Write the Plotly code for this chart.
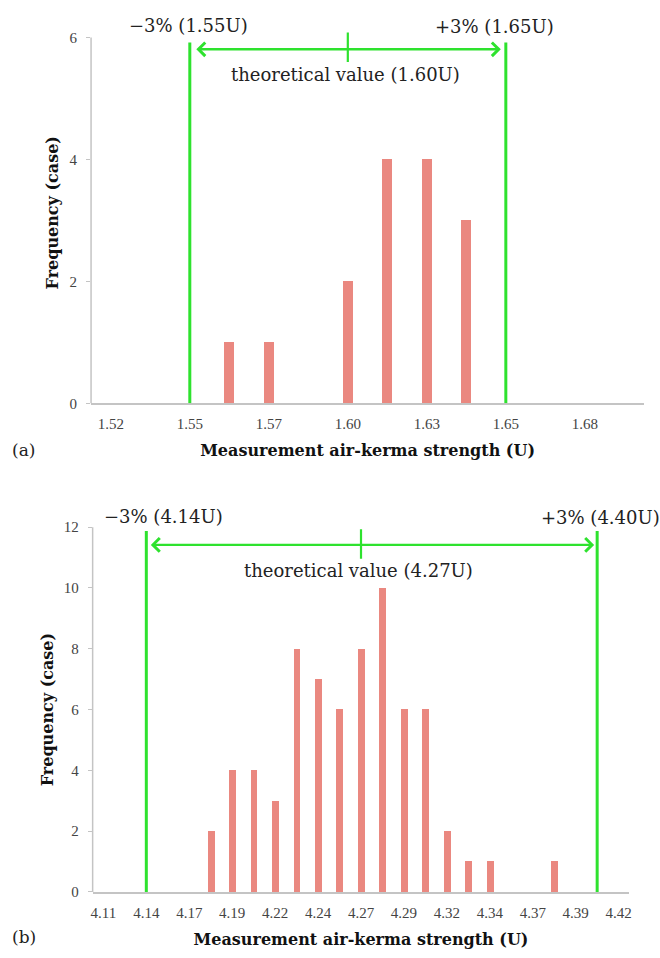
import plotly.graph_objects as go

# ---------------- Data: panel (a) ----------------
bins_a = ["1.52", "1.53", "1.55", "1.56", "1.57", "1.59", "1.60",
          "1.61", "1.63", "1.64", "1.65", "1.67", "1.68", "1.69"]
freq_a = [0, 0, 0, 1, 1, 0, 2, 4, 4, 3, 0, 0, 0, 0]
ticks_a = ["1.52", "1.55", "1.57", "1.60", "1.63", "1.65", "1.68"]
yticks_a = [0, 2, 4, 6]
lower_a, theory_a, upper_a = "1.55", "1.60", "1.65"
label_lower_a = "\u22123% (1.55U)"
label_upper_a = "+3% (1.65U)"
label_theory_a = "theoretical value (1.60U)"

# ---------------- Data: panel (b) ----------------
bins_b = ["4.11", "4.13", "4.14", "4.15", "4.17", "4.18", "4.19", "4.20",
          "4.22", "4.23", "4.24", "4.26", "4.27", "4.28", "4.29", "4.31",
          "4.32", "4.33", "4.34", "4.36", "4.37", "4.38", "4.39", "4.40", "4.42"]
freq_b = [0, 0, 0, 0, 0, 2, 4, 4, 3, 8, 7, 6, 8, 10, 6, 6, 2, 1, 1, 0, 0, 1, 0, 0, 0]
ticks_b = ["4.11", "4.14", "4.17", "4.19", "4.22", "4.24", "4.27",
           "4.29", "4.32", "4.34", "4.37", "4.39", "4.42"]
yticks_b = [0, 2, 4, 6, 8, 10, 12]
lower_b, theory_b, upper_b = "4.14", "4.27", "4.40"
label_lower_b = "\u22123% (4.14U)"
label_upper_b = "+3% (4.40U)"
label_theory_b = "theoretical value (4.27U)"

x_title = "Measurement air-kerma strength (U)"
y_title = "Frequency (case)"

# ---------------- Style ----------------
W, H = 660, 958
GREEN = "#2ee22e"
BAR = "#ea8880"
AXIS = "#c4c4c4"
TICKFONT = dict(family="Liberation Serif", size=15, color="#444444")
TITLEFONT = dict(family="DejaVu Serif", size=16, color="#111111", weight="bold")
ANNFONT = dict(family="DejaVu Serif", size=18, color="#222222")

# panel geometry (pixels from the top-left of the page)
A_X0, A_X1 = 89.6, 646.0
A_Y_ZERO, A_Y_SIX = 402.0, 30.0
A_YMAX = 6.25
B_X0, B_X1 = 91.2, 631.2
B_Y_ZERO, B_Y_TOP = 899.0, 528.0
B_YMAX = 12.0

a_ppu = (A_Y_ZERO - A_Y_SIX) / 6.0
a_top_px = A_Y_ZERO - A_YMAX * a_ppu
b_ppu = (B_Y_ZERO - B_Y_TOP) / B_YMAX

fig = go.Figure()

fig.add_trace(go.Bar(x=bins_a, y=freq_a, xaxis="x", yaxis="y", width=0.26,
                     marker=dict(color=BAR, line=dict(width=0)), showlegend=False))
fig.add_trace(go.Bar(x=bins_b, y=freq_b, xaxis="x2", yaxis="y2", width=0.32,
                     marker=dict(color=BAR, line=dict(width=0)), showlegend=False))


def xdom(x0, x1):
    return [x0 / W, x1 / W]


def ydom(top, bottom):
    return [1 - bottom / H, 1 - top / H]


common_x = dict(type="category", categoryorder="array", showgrid=False, zeroline=False,
                showline=True, linecolor=AXIS, linewidth=1.5, ticks="",
                ticklabelstandoff=6, tickfont=TICKFONT, title_font=TITLEFONT,
                fixedrange=True)
common_y = dict(showgrid=False, zeroline=False, showline=False, ticks="outside",
                ticklen=4, tickcolor=AXIS, tickwidth=1.2, tickfont=TICKFONT,
                ticklabelstandoff=6, title_font=TITLEFONT, fixedrange=True)

fig.update_layout(
    width=W, height=H, margin=dict(l=0, r=0, t=0, b=0),
    paper_bgcolor="white", plot_bgcolor="white", bargap=0,
    xaxis=dict(common_x, domain=xdom(A_X0, A_X1), anchor="y",
               categoryarray=bins_a, range=[-0.5, len(bins_a) - 0.5],
               tickmode="array", tickvals=ticks_a, ticktext=ticks_a,
               title=dict(text=x_title, standoff=14)),
    yaxis=dict(common_y, domain=ydom(a_top_px, A_Y_ZERO), anchor="x",
               range=[0, A_YMAX], tickmode="array", tickvals=yticks_a,
               title=dict(text=y_title, standoff=6)),
    xaxis2=dict(common_x, domain=xdom(B_X0, B_X1), anchor="y2",
                categoryarray=bins_b, range=[-0.5, len(bins_b) - 0.5],
                tickmode="array", tickvals=ticks_b, ticktext=ticks_b,
                title=dict(text=x_title, standoff=14)),
    yaxis2=dict(common_y, domain=ydom(B_Y_TOP, B_Y_ZERO), anchor="x2",
                range=[0, B_YMAX], tickmode="array", tickvals=yticks_b,
                title=dict(text=y_title, standoff=6)),
)

shapes = []
anns = []

# y-axis lines (from 0 to the top tick)
shapes.append(dict(type="line", xref="x domain", yref="y domain", x0=0, x1=0,
                   y0=0, y1=yticks_a[-1] / A_YMAX, line=dict(color=AXIS, width=1.5)))
shapes.append(dict(type="line", xref="x2 domain", yref="y2 domain", x0=0, x1=0,
                   y0=0, y1=yticks_b[-1] / B_YMAX, line=dict(color=AXIS, width=1.5)))


def add_limits(xr, yr, bins, lower, upper, theory, line_top, arrow_y, tick_lo, tick_hi,
               stand, lbl_lo, lbl_hi, lbl_th, py_lo, py_hi, py_th,
               sh_lo, sh_hi, sh_th):
    # category positions on the category axis (index of the bin)
    xl, xu, xt = bins.index(lower), bins.index(upper), bins.index(theory)
    for xv in (xl, xu):
        shapes.append(dict(type="line", xref=xr, yref=yr, x0=xv, x1=xv, y0=0, y1=line_top,
                           line=dict(color=GREEN, width=3)))
    shapes.append(dict(type="line", xref=xr, yref=yr, x0=xt, x1=xt,
                       y0=tick_lo, y1=tick_hi, line=dict(color=GREEN, width=2.2)))
    anns.append(dict(xref=xr, yref=yr, axref=xr, ayref=yr, x=xu, y=arrow_y,
                     ax=xl, ay=arrow_y, text="", showarrow=True,
                     arrowside="end+start", arrowhead=4, startarrowhead=4,
                     arrowsize=1.1, startarrowsize=1.1, arrowwidth=2.4,
                     arrowcolor=GREEN, standoff=stand, startstandoff=stand))
    for xv, py, sh, txt in ((xl, py_lo, sh_lo, lbl_lo), (xu, py_hi, sh_hi, lbl_hi),
                            (xt, py_th, sh_th, lbl_th)):
        anns.append(dict(xref=xr, yref="paper", x=xv, y=1 - py / H, xshift=sh, text=txt,
                         showarrow=False, font=ANNFONT, xanchor="center",
                         yanchor="middle"))


def ya(px):
    return (A_Y_ZERO - px) / a_ppu


def yb(px):
    return (B_Y_ZERO - px) / b_ppu


add_limits("x", "y", bins_a, lower_a, upper_a, theory_a,
           line_top=ya(35), arrow_y=ya(42), tick_lo=ya(55), tick_hi=ya(25), stand=5,
           lbl_lo=label_lower_a, lbl_hi=label_upper_a, lbl_th=label_theory_a,
           py_lo=18, py_hi=19, py_th=68, sh_lo=-1, sh_hi=-11, sh_th=-2)
add_limits("x2", "y2", bins_b, lower_b, upper_b, theory_b,
           line_top=yb(532), arrow_y=yb(546), tick_lo=yb(560), tick_hi=yb(530), stand=3,
           lbl_lo=label_lower_b, lbl_hi=label_upper_b, lbl_th=label_theory_b,
           py_lo=517, py_hi=518, py_th=572, sh_lo=17, sh_hi=3, sh_th=-3)

# panel letters
letter_font = dict(family="DejaVu Serif", size=17, color="#222222")
anns.append(dict(xref="paper", yref="paper", x=22 / W, y=1 - 449 / H, text="(a)",
                 showarrow=False, font=letter_font, xanchor="center", yanchor="middle"))
anns.append(dict(xref="paper", yref="paper", x=22 / W, y=1 - 945 / H, text="(b)",
                 showarrow=False, font=letter_font, xanchor="center", yanchor="middle"))

fig.update_layout(shapes=shapes, annotations=anns)
fig.write_html("out.html")
